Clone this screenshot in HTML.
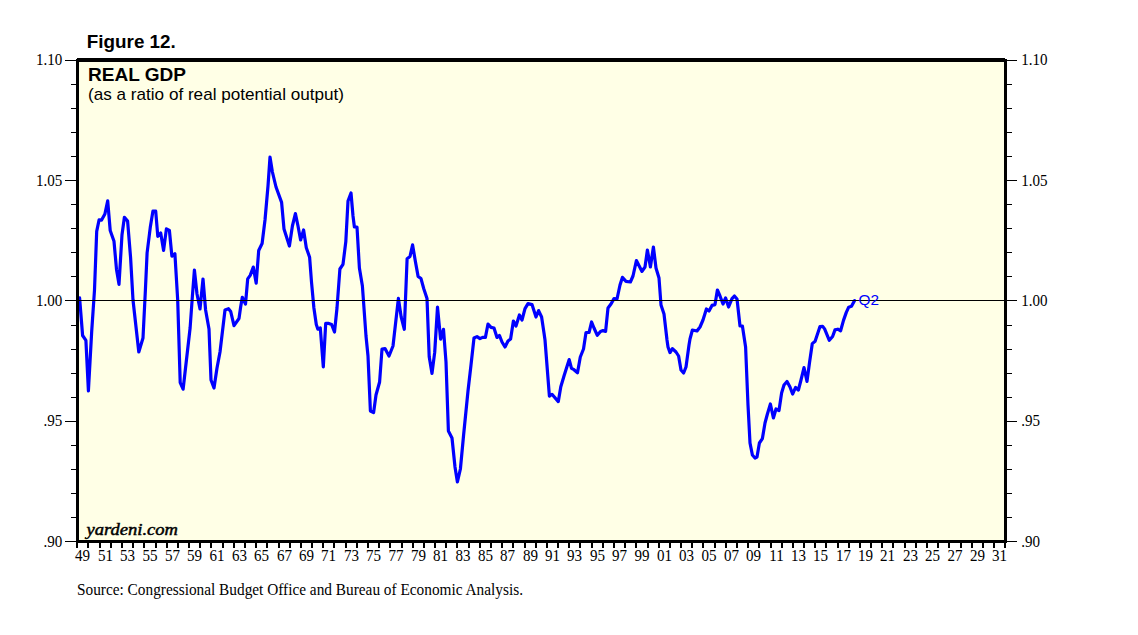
<!DOCTYPE html>
<html><head><meta charset="utf-8"><style>
html,body{margin:0;padding:0;background:#fff;width:1138px;height:635px;overflow:hidden}
svg{display:block}
.ax{font-family:"Liberation Serif",serif;font-size:16px;fill:#000}
.fig{font-family:"Liberation Sans",sans-serif;font-size:19px;font-weight:bold;fill:#000}
.ttl{font-family:"Liberation Sans",sans-serif;font-size:18px;font-weight:bold;fill:#000}
.sub{font-family:"Liberation Sans",sans-serif;font-size:17px;fill:#000}
.yd{font-family:"Liberation Serif",serif;font-size:16px;font-style:italic;fill:#000;stroke:#000;stroke-width:0.45px}
.q2{font-family:"Liberation Sans",sans-serif;font-size:15.4px;fill:#0000FF}
.src{font-family:"Liberation Serif",serif;font-size:16px;fill:#000}
</style></head><body>
<svg width="1138" height="635" viewBox="0 0 1138 635">
<rect x="79" y="62" width="925" height="478" fill="#FFFFE6"/>
<path d="M79.6,297.9 L82.6,335.5 L85.9,340.4 L88.4,390.9 L91.7,331.3 L94.5,290.0 L96.7,231.4 L99.1,219.8 L101.6,220.1 L104.9,214.0 L107.7,200.8 L110.2,230.5 L114.0,241.3 L116.5,269.4 L119.0,284.3 L122.0,234.7 L124.4,217.3 L127.6,221.1 L130.6,257.8 L133.0,300.0 L138.8,352.0 L143.0,338.0 L145.4,290.0 L147.1,252.9 L150.4,226.4 L152.9,211.2 L155.7,211.2 L157.8,236.3 L160.7,233.0 L163.6,250.4 L166.4,228.9 L169.4,230.5 L171.9,256.2 L174.9,253.7 L177.7,300.0 L180.2,382.6 L183.1,389.2 L190.1,328.0 L192.4,296.0 L194.4,270.0 L197.0,294.0 L200.0,309.0 L203.0,279.0 L205.6,310.0 L209.0,329.0 L211.0,380.0 L214.0,388.0 L217.0,368.0 L220.0,352.0 L225.0,310.0 L228.5,308.7 L230.7,311.5 L234.0,325.6 L239.0,318.5 L240.6,307.2 L242.3,297.3 L245.5,304.0 L247.7,278.9 L250.2,275.4 L253.3,267.1 L256.2,283.1 L258.7,250.5 L262.1,243.5 L265.0,220.0 L268.0,186.0 L270.0,157.0 L272.4,172.0 L276.0,187.0 L281.6,202.4 L284.0,229.0 L289.4,246.0 L292.4,226.0 L295.4,213.6 L298.0,226.0 L300.6,240.0 L303.6,230.0 L306.3,247.7 L309.6,257.2 L311.5,282.0 L313.9,308.0 L316.3,324.5 L317.9,329.2 L320.3,328.0 L323.3,367.0 L325.7,323.3 L328.1,323.3 L331.6,324.5 L334.5,332.0 L337.0,308.0 L339.9,269.0 L343.0,264.3 L345.8,241.8 L348.0,201.0 L351.0,193.0 L353.0,216.0 L354.4,227.0 L357.0,227.0 L359.4,268.0 L362.4,286.0 L366.0,336.0 L368.0,356.0 L370.4,411.0 L373.6,412.6 L376.0,395.0 L379.6,382.0 L382.0,349.0 L385.0,348.6 L389.0,356.0 L393.0,346.0 L398.4,298.4 L401.2,317.2 L404.3,329.3 L407.1,258.7 L410.0,256.5 L412.6,244.9 L415.3,261.0 L418.1,276.4 L421.0,278.6 L423.7,288.5 L427.0,298.4 L429.2,356.8 L432.0,373.4 L434.7,352.4 L437.5,307.2 L440.6,339.2 L443.5,329.3 L446.0,362.0 L448.4,431.0 L452.0,438.0 L455.0,467.0 L457.4,482.0 L460.4,469.0 L463.6,435.0 L468.0,391.0 L471.0,365.0 L474.0,338.0 L477.0,336.6 L480.0,338.6 L482.6,337.4 L485.4,337.4 L488.0,324.0 L491.0,327.4 L494.0,328.0 L497.0,337.4 L499.4,335.4 L502.0,342.0 L505.0,347.0 L508.0,341.0 L510.6,339.0 L513.4,321.0 L516.0,326.0 L519.4,315.0 L522.0,320.0 L525.0,308.6 L528.0,303.6 L532.0,304.6 L536.0,317.0 L538.6,310.6 L541.6,317.0 L544.0,333.0 L545.0,340.0 L549.4,396.1 L552.0,394.3 L558.3,401.6 L560.8,386.7 L564.0,376.0 L569.2,359.6 L571.5,368.4 L574.0,369.7 L577.5,372.8 L580.3,357.0 L583.5,349.0 L586.0,332.5 L589.1,332.3 L591.6,322.0 L594.0,328.0 L597.3,335.3 L600.5,331.5 L603.0,330.6 L605.6,331.4 L608.0,308.0 L611.0,304.0 L614.0,298.6 L617.0,299.0 L620.0,285.0 L622.4,277.4 L626.0,281.4 L630.4,282.0 L633.0,276.0 L636.4,260.6 L642.0,271.4 L645.0,267.0 L647.4,250.0 L650.4,267.0 L653.4,247.0 L656.0,268.0 L659.0,278.0 L661.0,305.0 L664.0,314.0 L667.0,340.0 L668.0,347.0 L670.0,352.6 L672.4,348.6 L676.0,352.0 L678.6,356.0 L681.0,370.0 L683.6,373.0 L686.0,367.0 L689.0,345.0 L690.0,339.0 L692.4,330.0 L697.0,331.0 L700.0,327.0 L703.0,320.0 L706.4,309.0 L709.0,311.0 L712.0,305.4 L715.0,304.6 L717.4,290.0 L720.0,296.0 L723.0,304.0 L725.6,298.0 L728.6,307.0 L732.0,298.6 L734.4,296.0 L737.0,299.0 L740.0,326.0 L742.4,326.0 L745.6,347.0 L748.0,405.0 L750.0,443.0 L752.4,455.0 L755.0,458.0 L757.0,457.0 L759.4,443.0 L762.4,438.6 L765.0,423.0 L767.4,414.0 L770.4,404.0 L773.4,418.0 L776.0,409.0 L779.0,410.6 L781.6,393.0 L784.0,385.0 L787.0,381.4 L790.0,387.0 L792.6,394.0 L795.6,387.4 L798.4,390.0 L801.0,380.0 L804.0,367.6 L807.0,381.4 L809.6,362.0 L812.3,343.6 L815.1,341.2 L817.5,334.1 L820.0,326.6 L822.7,326.4 L824.6,328.9 L829.3,340.3 L832.6,336.5 L835.0,329.9 L837.8,329.2 L840.6,330.8 L843.5,320.4 L846.3,312.4 L848.7,307.2 L851.5,306.3 L854.6,300.6" fill="none" stroke="#0000FF" stroke-width="3.2" stroke-linejoin="round" stroke-linecap="round"/>
<rect x="79" y="300" width="925" height="1" fill="#000"/>
<rect x="77" y="58" width="928" height="4" fill="#000"/>
<rect x="76" y="59" width="931" height="3" fill="#000"/>
<rect x="76" y="59" width="3" height="484" fill="#000"/>
<rect x="1004" y="59" width="3" height="484" fill="#000"/>
<rect x="76" y="540" width="931" height="3" fill="#000"/>
<rect x="65" y="60" width="11" height="1" fill="#000"/>
<rect x="1007" y="60" width="10" height="1" fill="#000"/>
<rect x="71" y="84" width="5" height="1" fill="#000"/>
<rect x="1007" y="84" width="5" height="1" fill="#000"/>
<rect x="71" y="108" width="5" height="1" fill="#000"/>
<rect x="1007" y="108" width="5" height="1" fill="#000"/>
<rect x="71" y="132" width="5" height="1" fill="#000"/>
<rect x="1007" y="132" width="5" height="1" fill="#000"/>
<rect x="71" y="156" width="5" height="1" fill="#000"/>
<rect x="1007" y="156" width="5" height="1" fill="#000"/>
<rect x="65" y="180" width="11" height="1" fill="#000"/>
<rect x="1007" y="180" width="10" height="1" fill="#000"/>
<rect x="71" y="204" width="5" height="1" fill="#000"/>
<rect x="1007" y="204" width="5" height="1" fill="#000"/>
<rect x="71" y="228" width="5" height="1" fill="#000"/>
<rect x="1007" y="228" width="5" height="1" fill="#000"/>
<rect x="71" y="252" width="5" height="1" fill="#000"/>
<rect x="1007" y="252" width="5" height="1" fill="#000"/>
<rect x="71" y="276" width="5" height="1" fill="#000"/>
<rect x="1007" y="276" width="5" height="1" fill="#000"/>
<rect x="65" y="300" width="11" height="1" fill="#000"/>
<rect x="1007" y="300" width="10" height="1" fill="#000"/>
<rect x="71" y="325" width="5" height="1" fill="#000"/>
<rect x="1007" y="325" width="5" height="1" fill="#000"/>
<rect x="71" y="349" width="5" height="1" fill="#000"/>
<rect x="1007" y="349" width="5" height="1" fill="#000"/>
<rect x="71" y="373" width="5" height="1" fill="#000"/>
<rect x="1007" y="373" width="5" height="1" fill="#000"/>
<rect x="71" y="397" width="5" height="1" fill="#000"/>
<rect x="1007" y="397" width="5" height="1" fill="#000"/>
<rect x="65" y="421" width="11" height="1" fill="#000"/>
<rect x="1007" y="421" width="10" height="1" fill="#000"/>
<rect x="71" y="445" width="5" height="1" fill="#000"/>
<rect x="1007" y="445" width="5" height="1" fill="#000"/>
<rect x="71" y="469" width="5" height="1" fill="#000"/>
<rect x="1007" y="469" width="5" height="1" fill="#000"/>
<rect x="71" y="493" width="5" height="1" fill="#000"/>
<rect x="1007" y="493" width="5" height="1" fill="#000"/>
<rect x="71" y="517" width="5" height="1" fill="#000"/>
<rect x="1007" y="517" width="5" height="1" fill="#000"/>
<rect x="65" y="541" width="11" height="1" fill="#000"/>
<rect x="1007" y="541" width="10" height="1" fill="#000"/>
<text transform="translate(62.2,64.80) scale(0.94,1)" text-anchor="end" class="ax">1.10</text>
<text transform="translate(1021.2,64.80) scale(0.94,1)" class="ax">1.10</text>
<text transform="translate(62.2,185.90) scale(0.94,1)" text-anchor="end" class="ax">1.05</text>
<text transform="translate(1021.2,185.90) scale(0.94,1)" class="ax">1.05</text>
<text transform="translate(62.2,305.80) scale(0.94,1)" text-anchor="end" class="ax">1.00</text>
<text transform="translate(1021.2,305.80) scale(0.94,1)" class="ax">1.00</text>
<text transform="translate(62.2,425.90) scale(0.94,1)" text-anchor="end" class="ax">.95</text>
<text transform="translate(1021.2,425.90) scale(0.94,1)" class="ax">.95</text>
<text transform="translate(62.2,546.90) scale(0.94,1)" text-anchor="end" class="ax">.90</text>
<text transform="translate(1021.2,546.90) scale(0.94,1)" class="ax">.90</text>
<rect x="76" y="543" width="2" height="5" fill="#000"/>
<rect x="87" y="543" width="2" height="5" fill="#000"/>
<rect x="99" y="543" width="2" height="5" fill="#000"/>
<rect x="110" y="543" width="2" height="5" fill="#000"/>
<rect x="121" y="543" width="2" height="5" fill="#000"/>
<rect x="132" y="543" width="2" height="5" fill="#000"/>
<rect x="143" y="543" width="2" height="5" fill="#000"/>
<rect x="155" y="543" width="2" height="5" fill="#000"/>
<rect x="166" y="543" width="2" height="5" fill="#000"/>
<rect x="177" y="543" width="2" height="5" fill="#000"/>
<rect x="188" y="543" width="2" height="5" fill="#000"/>
<rect x="199" y="543" width="2" height="5" fill="#000"/>
<rect x="210" y="543" width="2" height="5" fill="#000"/>
<rect x="222" y="543" width="2" height="5" fill="#000"/>
<rect x="233" y="543" width="2" height="5" fill="#000"/>
<rect x="244" y="543" width="2" height="5" fill="#000"/>
<rect x="255" y="543" width="2" height="5" fill="#000"/>
<rect x="266" y="543" width="2" height="5" fill="#000"/>
<rect x="278" y="543" width="2" height="5" fill="#000"/>
<rect x="289" y="543" width="2" height="5" fill="#000"/>
<rect x="300" y="543" width="2" height="5" fill="#000"/>
<rect x="311" y="543" width="2" height="5" fill="#000"/>
<rect x="322" y="543" width="2" height="5" fill="#000"/>
<rect x="333" y="543" width="2" height="5" fill="#000"/>
<rect x="345" y="543" width="2" height="5" fill="#000"/>
<rect x="356" y="543" width="2" height="5" fill="#000"/>
<rect x="367" y="543" width="2" height="5" fill="#000"/>
<rect x="378" y="543" width="2" height="5" fill="#000"/>
<rect x="389" y="543" width="2" height="5" fill="#000"/>
<rect x="401" y="543" width="2" height="5" fill="#000"/>
<rect x="412" y="543" width="2" height="5" fill="#000"/>
<rect x="423" y="543" width="2" height="5" fill="#000"/>
<rect x="434" y="543" width="2" height="5" fill="#000"/>
<rect x="445" y="543" width="2" height="5" fill="#000"/>
<rect x="456" y="543" width="2" height="5" fill="#000"/>
<rect x="468" y="543" width="2" height="5" fill="#000"/>
<rect x="479" y="543" width="2" height="5" fill="#000"/>
<rect x="490" y="543" width="2" height="5" fill="#000"/>
<rect x="501" y="543" width="2" height="5" fill="#000"/>
<rect x="512" y="543" width="2" height="5" fill="#000"/>
<rect x="524" y="543" width="2" height="5" fill="#000"/>
<rect x="535" y="543" width="2" height="5" fill="#000"/>
<rect x="546" y="543" width="2" height="5" fill="#000"/>
<rect x="557" y="543" width="2" height="5" fill="#000"/>
<rect x="568" y="543" width="2" height="5" fill="#000"/>
<rect x="579" y="543" width="2" height="5" fill="#000"/>
<rect x="591" y="543" width="2" height="5" fill="#000"/>
<rect x="602" y="543" width="2" height="5" fill="#000"/>
<rect x="613" y="543" width="2" height="5" fill="#000"/>
<rect x="624" y="543" width="2" height="5" fill="#000"/>
<rect x="635" y="543" width="2" height="5" fill="#000"/>
<rect x="647" y="543" width="2" height="5" fill="#000"/>
<rect x="658" y="543" width="2" height="5" fill="#000"/>
<rect x="669" y="543" width="2" height="5" fill="#000"/>
<rect x="680" y="543" width="2" height="5" fill="#000"/>
<rect x="691" y="543" width="2" height="5" fill="#000"/>
<rect x="702" y="543" width="2" height="5" fill="#000"/>
<rect x="714" y="543" width="2" height="5" fill="#000"/>
<rect x="725" y="543" width="2" height="5" fill="#000"/>
<rect x="736" y="543" width="2" height="5" fill="#000"/>
<rect x="747" y="543" width="2" height="5" fill="#000"/>
<rect x="758" y="543" width="2" height="5" fill="#000"/>
<rect x="770" y="543" width="2" height="5" fill="#000"/>
<rect x="781" y="543" width="2" height="5" fill="#000"/>
<rect x="792" y="543" width="2" height="5" fill="#000"/>
<rect x="803" y="543" width="2" height="5" fill="#000"/>
<rect x="814" y="543" width="2" height="5" fill="#000"/>
<rect x="825" y="543" width="2" height="5" fill="#000"/>
<rect x="837" y="543" width="2" height="5" fill="#000"/>
<rect x="848" y="543" width="2" height="5" fill="#000"/>
<rect x="859" y="543" width="2" height="5" fill="#000"/>
<rect x="870" y="543" width="2" height="5" fill="#000"/>
<rect x="881" y="543" width="2" height="5" fill="#000"/>
<rect x="892" y="543" width="2" height="5" fill="#000"/>
<rect x="904" y="543" width="2" height="5" fill="#000"/>
<rect x="915" y="543" width="2" height="5" fill="#000"/>
<rect x="926" y="543" width="2" height="5" fill="#000"/>
<rect x="937" y="543" width="2" height="5" fill="#000"/>
<rect x="948" y="543" width="2" height="5" fill="#000"/>
<rect x="960" y="543" width="2" height="5" fill="#000"/>
<rect x="971" y="543" width="2" height="5" fill="#000"/>
<rect x="982" y="543" width="2" height="5" fill="#000"/>
<rect x="993" y="543" width="2" height="5" fill="#000"/>
<rect x="1004" y="543" width="2" height="5" fill="#000"/>
<text transform="translate(82.50,560.8) scale(0.94,1)" text-anchor="middle" class="ax">49</text>
<text transform="translate(105.50,560.8) scale(0.94,1)" text-anchor="middle" class="ax">51</text>
<text transform="translate(127.50,560.8) scale(0.94,1)" text-anchor="middle" class="ax">53</text>
<text transform="translate(150.00,560.8) scale(0.94,1)" text-anchor="middle" class="ax">55</text>
<text transform="translate(172.50,560.8) scale(0.94,1)" text-anchor="middle" class="ax">57</text>
<text transform="translate(194.50,560.8) scale(0.94,1)" text-anchor="middle" class="ax">59</text>
<text transform="translate(217.00,560.8) scale(0.94,1)" text-anchor="middle" class="ax">61</text>
<text transform="translate(239.50,560.8) scale(0.94,1)" text-anchor="middle" class="ax">63</text>
<text transform="translate(261.50,560.8) scale(0.94,1)" text-anchor="middle" class="ax">65</text>
<text transform="translate(284.50,560.8) scale(0.94,1)" text-anchor="middle" class="ax">67</text>
<text transform="translate(306.50,560.8) scale(0.94,1)" text-anchor="middle" class="ax">69</text>
<text transform="translate(328.50,560.8) scale(0.94,1)" text-anchor="middle" class="ax">71</text>
<text transform="translate(351.50,560.8) scale(0.94,1)" text-anchor="middle" class="ax">73</text>
<text transform="translate(373.50,560.8) scale(0.94,1)" text-anchor="middle" class="ax">75</text>
<text transform="translate(396.00,560.8) scale(0.94,1)" text-anchor="middle" class="ax">77</text>
<text transform="translate(418.50,560.8) scale(0.94,1)" text-anchor="middle" class="ax">79</text>
<text transform="translate(440.50,560.8) scale(0.94,1)" text-anchor="middle" class="ax">81</text>
<text transform="translate(463.00,560.8) scale(0.94,1)" text-anchor="middle" class="ax">83</text>
<text transform="translate(485.50,560.8) scale(0.94,1)" text-anchor="middle" class="ax">85</text>
<text transform="translate(507.50,560.8) scale(0.94,1)" text-anchor="middle" class="ax">87</text>
<text transform="translate(530.50,560.8) scale(0.94,1)" text-anchor="middle" class="ax">89</text>
<text transform="translate(552.50,560.8) scale(0.94,1)" text-anchor="middle" class="ax">91</text>
<text transform="translate(574.50,560.8) scale(0.94,1)" text-anchor="middle" class="ax">93</text>
<text transform="translate(597.50,560.8) scale(0.94,1)" text-anchor="middle" class="ax">95</text>
<text transform="translate(619.50,560.8) scale(0.94,1)" text-anchor="middle" class="ax">97</text>
<text transform="translate(642.00,560.8) scale(0.94,1)" text-anchor="middle" class="ax">99</text>
<text transform="translate(664.50,560.8) scale(0.94,1)" text-anchor="middle" class="ax">01</text>
<text transform="translate(686.50,560.8) scale(0.94,1)" text-anchor="middle" class="ax">03</text>
<text transform="translate(709.00,560.8) scale(0.94,1)" text-anchor="middle" class="ax">05</text>
<text transform="translate(731.50,560.8) scale(0.94,1)" text-anchor="middle" class="ax">07</text>
<text transform="translate(753.50,560.8) scale(0.94,1)" text-anchor="middle" class="ax">09</text>
<text transform="translate(776.50,560.8) scale(0.94,1)" text-anchor="middle" class="ax">11</text>
<text transform="translate(798.50,560.8) scale(0.94,1)" text-anchor="middle" class="ax">13</text>
<text transform="translate(820.50,560.8) scale(0.94,1)" text-anchor="middle" class="ax">15</text>
<text transform="translate(843.50,560.8) scale(0.94,1)" text-anchor="middle" class="ax">17</text>
<text transform="translate(865.50,560.8) scale(0.94,1)" text-anchor="middle" class="ax">19</text>
<text transform="translate(887.50,560.8) scale(0.94,1)" text-anchor="middle" class="ax">21</text>
<text transform="translate(910.50,560.8) scale(0.94,1)" text-anchor="middle" class="ax">23</text>
<text transform="translate(932.50,560.8) scale(0.94,1)" text-anchor="middle" class="ax">25</text>
<text transform="translate(955.00,560.8) scale(0.94,1)" text-anchor="middle" class="ax">27</text>
<text transform="translate(977.50,560.8) scale(0.94,1)" text-anchor="middle" class="ax">29</text>
<text transform="translate(999.50,560.8) scale(0.94,1)" text-anchor="middle" class="ax">31</text>
<text x="86.8" y="47.9" class="fig" textLength="89" lengthAdjust="spacingAndGlyphs">Figure 12.</text>
<text x="88" y="80.5" class="ttl" textLength="98" lengthAdjust="spacingAndGlyphs">REAL GDP</text>
<text x="88" y="99.7" class="sub" textLength="256" lengthAdjust="spacingAndGlyphs">(as a ratio of real potential output)</text>
<text x="86.5" y="535.1" class="yd" textLength="91.5" lengthAdjust="spacingAndGlyphs">yardeni.com</text>
<text x="858.5" y="305.4" class="q2" textLength="20.5" lengthAdjust="spacingAndGlyphs">Q2</text>
<text x="77" y="594.8" class="src" textLength="446" lengthAdjust="spacingAndGlyphs">Source: Congressional Budget Office and Bureau of Economic Analysis.</text>
</svg>
</body></html>
